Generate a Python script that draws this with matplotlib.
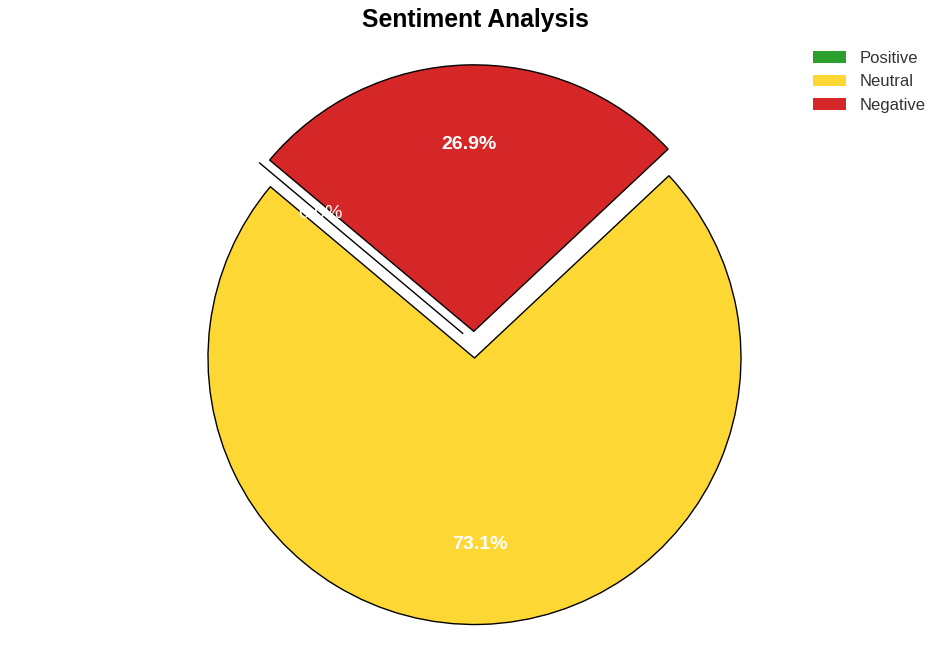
import math
import matplotlib
matplotlib.use("Agg")
import matplotlib.pyplot as plt
from matplotlib.patches import Patch

plt.rcParams['font.family'] = ['Liberation Sans', 'DejaVu Sans']

# данные диаграммы
labels = ['Positive', 'Neutral', 'Negative']
values = [0.0, 73.1, 26.9]
colors = ['#2ca02c', '#fdd835', '#d62728']
explode = [0, 0, 0.1]

fig = plt.figure(figsize=(9.5, 6.62), dpi=100)
ax = fig.add_axes([0, 0, 1, 1])

wedges, texts, autotexts = ax.pie(
    values, labels=None, colors=colors, explode=explode,
    autopct='%1.1f%%', startangle=140, pctdistance=0.7,
    wedgeprops={'edgecolor': 'black', 'linewidth': 1},
)
for t in autotexts:
    t.set_color('white')
    t.set_fontsize(14)
    t.set_fontweight('bold')

# сдвиг нулевого сектора (как на исходной картинке)
shift_ang = math.radians(115)
dx, dy = 0.1 * math.cos(shift_ang), 0.1 * math.sin(shift_ang)
wedges[0].set_center((dx, dy))
px, py = autotexts[0].get_position()
autotexts[0].set_position((px + dx, py + dy))
autotexts[0].set_fontweight('normal')

# масштаб: центр круга (474.5, 358), радиус 266.5 px
r = 266.5
cx, cy = 474.5, 358
ax.set_aspect('auto')
ax.set_xlim(-cx / r, (950 - cx) / r)
ax.set_ylim(-(662 - cy) / r, cy / r)
ax.axis('off')

fig.suptitle('Sentiment Analysis', fontsize=17.8, fontweight='bold', y=1 - 20 / 662, va='center')

handles = [Patch(facecolor=c, edgecolor='none') for c in colors]
fig.legend(handles, labels, loc='upper left', bbox_to_anchor=(798 / 950, 1 - 36 / 662),
           frameon=False, fontsize=12, labelcolor='#333333',
           handlelength=2.0, handleheight=0.7)

fig.savefig('out.png', dpi=100)
